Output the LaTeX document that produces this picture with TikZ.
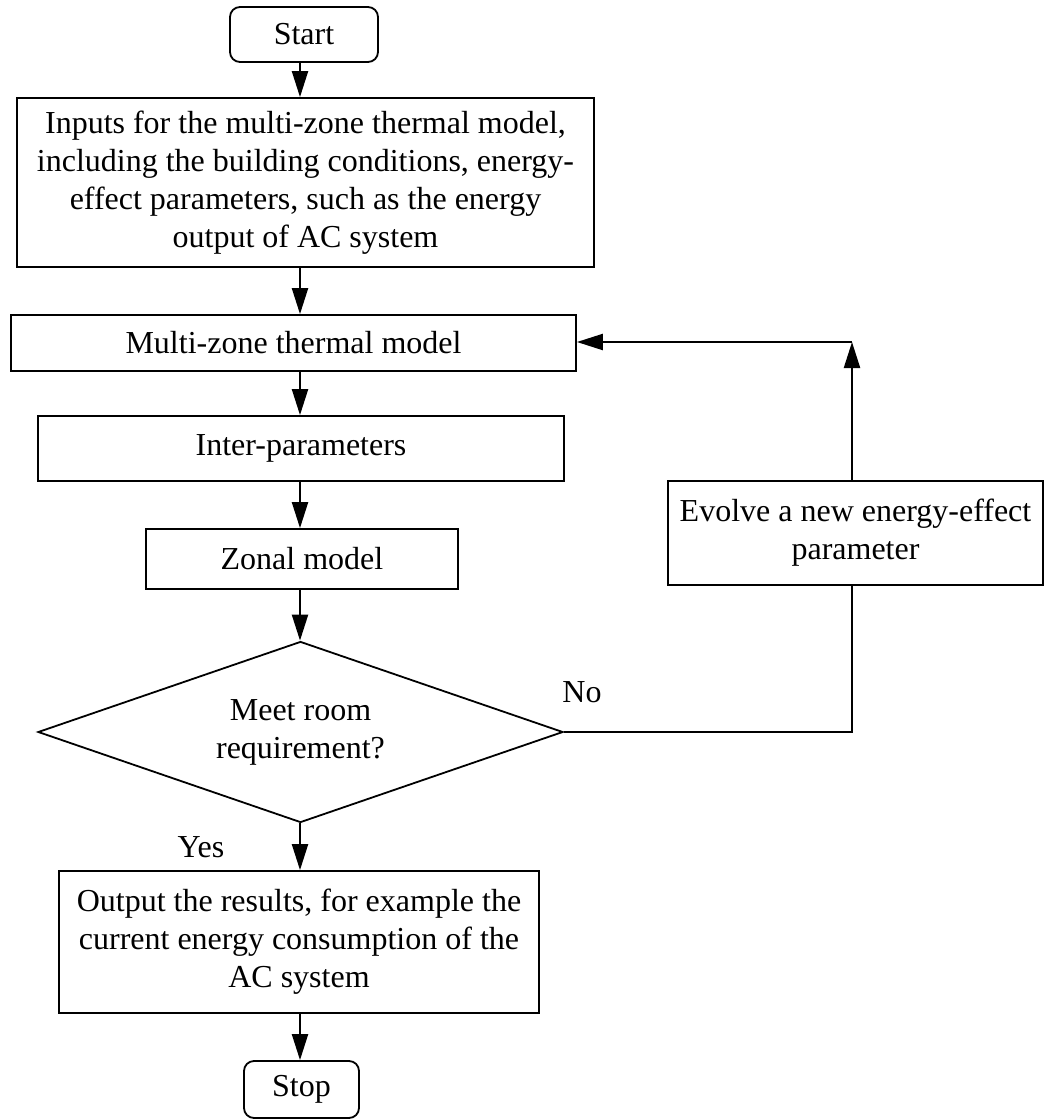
\documentclass[tikz,border=0pt]{standalone}
\usepackage{fontspec}
\setmainfont{Liberation Serif}
\usetikzlibrary{shapes.geometric,arrows.meta}

\tikzset{
  box/.style={draw, line width=0.9pt, inner sep=0pt, align=center,
    font=\fontsize{16}{19}\selectfont},
  term/.style={box, rounded corners=5pt},
  decision/.style={box, diamond, aspect=2.9},
  lbl/.style={inner sep=0pt, font=\fontsize{16}{19}\selectfont},
  arr/.style={line width=1.1pt, -{Triangle[length=13pt,width=8pt]}},
  link/.style={line width=1.1pt},
}

\begin{document}
\begin{tikzpicture}[x=0.5pt,y=-0.5pt]
    \useasboundingbox (0,0) rectangle (1044,1120);

    % Coordinates
    \coordinate (axis) at (300,0);
    \coordinate (corner) at (852,342);

    % Main column
    \node[term, minimum width=74pt, minimum height=27.5pt] (start) at (304,34.5) {Start};
    \node[box, minimum width=288.5pt, minimum height=84.5pt] (inputs) at (305.5,182.5)
        {Inputs for the multi-zone thermal model,\\
         including the building conditions, energy-\\
         effect parameters, such as the energy\\
         output of AC system};
    \node[box, minimum width=282.5pt, minimum height=28pt] (multi) at (293.5,343) {Multi-zone thermal model};
    \node[box, minimum width=263pt, minimum height=32.5pt] (inter) at (301,448.5) {Inter-parameters};
    \node[box, minimum width=156pt, minimum height=30pt] (zonal) at (302,559) {Zonal model};
    \node[decision, minimum width=262.5pt, minimum height=90.5pt] (check) at (300.5,732)
        {Meet room\\requirement?};
    \node[box, minimum width=240pt, minimum height=71pt] (output) at (299,942)
        {Output the results, for example the\\
         current energy consumption of the\\
         AC system};
    \node[term, minimum width=57.5pt, minimum height=28.5pt] (stop) at (301.5,1089.5) {Stop};

    % Feedback branch
    \node[box, minimum width=187.5pt, minimum height=52pt] (evolve) at (855.5,533)
        {Evolve a new energy-effect\\parameter};

    % Labels
    \node[lbl, anchor=base] (no) at (582,702) {No};
    \node[lbl, anchor=base] (yes) at (201,857) {Yes};

    % Arrows
    \draw[arr] (start.south -| axis) -- (inputs.north -| axis);
    \draw[arr] (inputs.south -| axis) -- (multi.north -| axis);
    \draw[arr] (multi.south -| axis) -- (inter.north -| axis);
    \draw[arr] (inter.south -| axis) -- (zonal.north -| axis);
    \draw[arr] (zonal.south -| axis) -- (check.north -| axis);
    \draw[arr] (check.south -| axis) -- (output.north -| axis);
    \draw[arr] (output.south -| axis) -- (stop.north -| axis);

    % draw the loop back
    \draw[link] (check.east) -| (evolve.south -| corner);
    \draw[arr] (evolve.north -| corner) -- (corner);
    \draw[arr] (corner) -- (multi.east |- corner);
\end{tikzpicture}
\end{document}
